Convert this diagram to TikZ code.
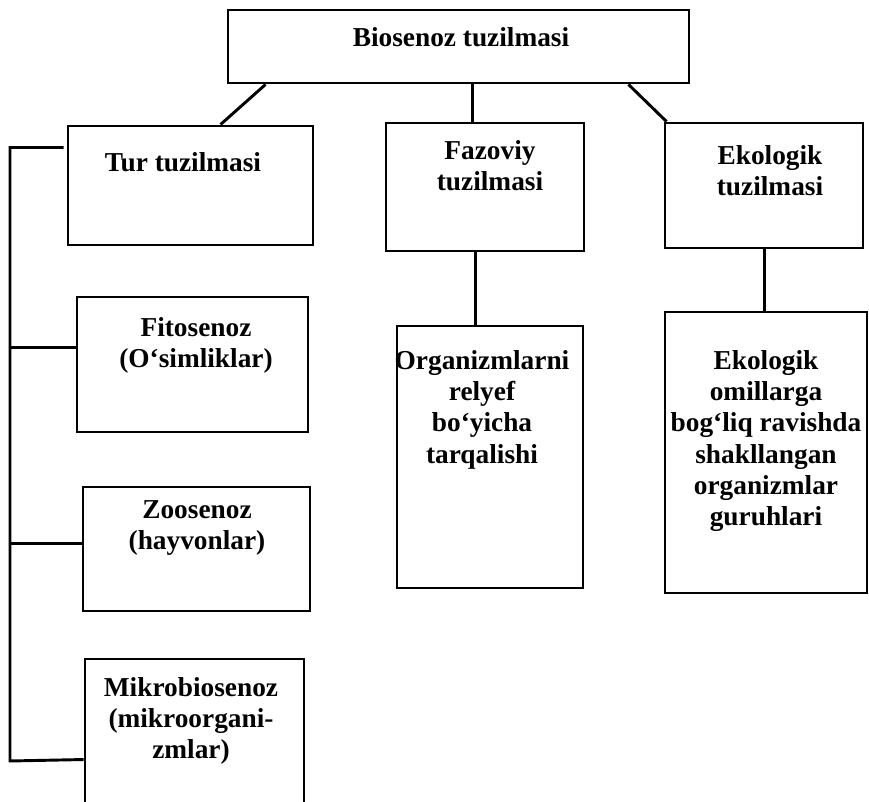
\documentclass[tikz,border=0pt]{standalone}
\usepackage{fontspec}
\setmainfont{Liberation Serif}
\usetikzlibrary{calc,positioning}

\tikzset{
    box/.style={draw, line width=2.2pt, inner sep=0pt},
    boxsize/.style 2 args={minimum width=#1*0.75pt, minimum height=#2*0.75pt},
    lbl/.style={font=\fontsize{20.5}{23.5}\selectfont\bfseries, align=center, inner sep=0pt, anchor=north},
    link/.style={line width=2.2pt},
}

\begin{document}
\begin{tikzpicture}[x=0.75pt, y=-0.75pt]
    \useasboundingbox (0,0) rectangle (869,802);
    % boxes
    \node[box, boxsize={461}{73}] (bio) at (458.5,46.5) {};
    \node[box, boxsize={245}{119}] (tur) at (190.5,185.5) {};
    \node[box, boxsize={198}{128}] (faz) at (485,187) {};
    \node[box, boxsize={198}{125}] (eko) at (764,185.5) {};
    \node[box, boxsize={186}{262}] (org) at (490,457) {};
    \node[box, boxsize={202}{281}] (ekogr) at (766,452.5) {};
    \node[box, boxsize={231}{135}] (fito) at (192.5,364.5) {};
    \node[box, boxsize={227}{124}] (zoo) at (196.5,549) {};
    \node[box, boxsize={219}{181}] (mikro) at (194.5,749.5) {};
    % texts
    \node[lbl] (biotxt) at (461,27) {Biosenoz tuzilmasi};
    \node[lbl] (turtxt) at (183,152) {Tur tuzilmasi};
    \node[lbl] (faztxt) at (490,140) {Fazoviy\\tuzilmasi};
    \node[lbl] (ekotxt) at (770,145) {Ekologik\\tuzilmasi};
    \node[lbl] (orgtxt) at (482,350) {Organizmlarni\\relyef\\bo‘yicha\\tarqalishi};
    \node[lbl] (ekogrtxt) at (766,350) {Ekologik\\omillarga\\bog‘liq ravishda\\shakllangan\\organizmlar\\guruhlari};
    \node[lbl] (fitotxt) at (196,317) {Fitosenoz\\(O‘simliklar)};
    \node[lbl] (zootxt) at (197,500) {Zoosenoz\\(hayvonlar)};
    \node[lbl] (mikrotxt) at (191,677) {Mikrobiosenoz\\(mikroorgani-\\zmlar)};
    % links
    \draw[link] ($(bio.south west)+(39,0)$) -- ($(tur.north west)+(154,0)$);
    \draw[link] ($(bio.south west)+(246,0)$) -- ($(faz.north west)+(88,0)$);
    \draw[link] ($(bio.south east)+(-62,0)$) -- ($(eko.north west)+(3,0)$);
    \draw[link] ($(faz.south west)+(91,0)$) -- ($(org.north west)+(80,0)$);
    \draw[link] ($(eko.south west)+(101,0)$) -- ($(ekogr.north west)+(101,0)$);
    \coordinate (rail) at (10,761);
    \coordinate (fitoin) at ($(fito.north west)+(0,52)$);
    \coordinate (zooin) at ($(zoo.north west)+(0,58)$);
    \draw[link] ($(tur.north west)+(-3,23)$) -| (rail) -- ($(mikro.north west)+(0,102)$);
    \draw[link] (fitoin) -- (fitoin -| rail);
    \draw[link] (zooin) -- (zooin -| rail);
\end{tikzpicture}
\end{document}
